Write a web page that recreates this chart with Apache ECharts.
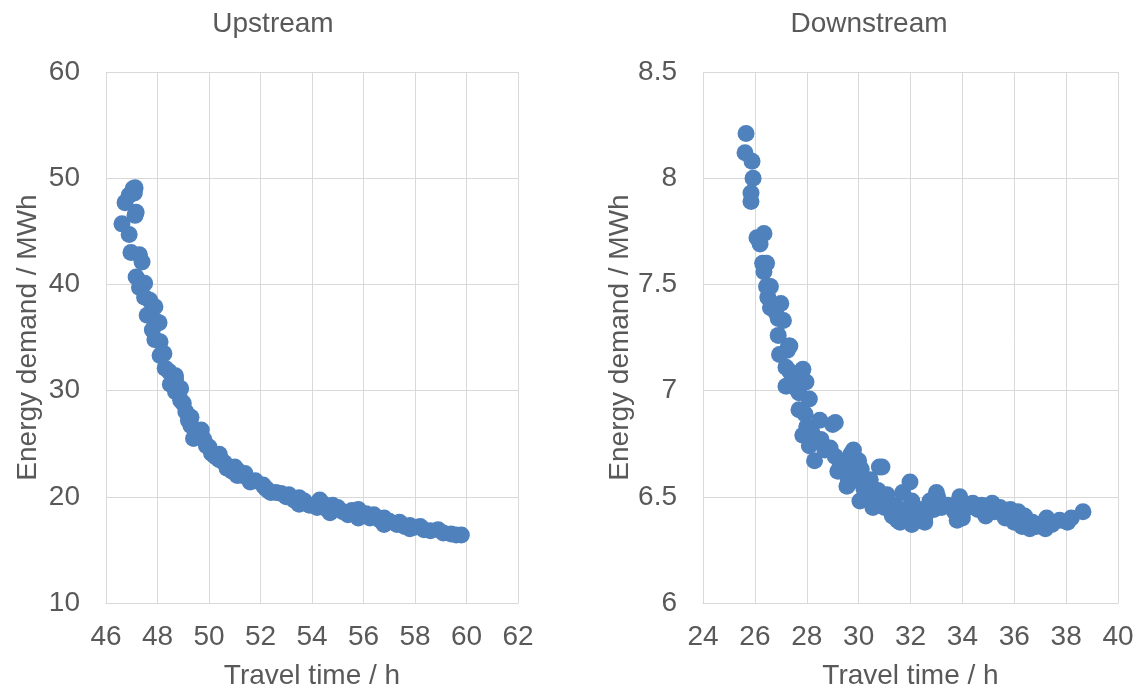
<!DOCTYPE html>
<html>
<head>
<meta charset="utf-8">
<script src="https://cdn.jsdelivr.net/npm/echarts@6/dist/echarts.min.js"></script>
<style>html,body{margin:0;padding:0;background:#fff}#c{width:1145px;height:695px}</style>
</head>
<body>
<div id="c"></div>
<script>
const upX = [46.62,46.74,46.9,47.05,47.13,47.1,46.9,47.13,47.17,46.97,47.3,47.4,47.17,47.3,47.5,47.5,47.7,47.6,47.9,47.9,47.8,48.06,47.9,48.1,48.1,48.25,48.3,48.45,48.5,48.7,48.7,48.7,48.9,48.9,49.0,49.1,49.2,49.3,49.3,49.4,49.6,49.7,49.8,49.9,50.0,50.1,50.3,50.4,50.4,50.6,50.7,50.9,51.1,51.1,51.3,51.4,51.6,51.8,52.1,52.2,52.4,52.6,52.8,53.0,53.1,53.3,53.5,53.7,53.9,54.2,54.3,54.4,54.6,54.8,55.0,55.2,55.4,55.55,55.8,55.9,56.1,56.25,56.4,56.65,56.8,57.0,57.3,57.4,57.6,57.8,57.95,58.2,58.35,58.6,58.9,59.1,59.4,59.6,59.8,53.5,54.7,55.8,56.8,57.8,52.3,51.0,50.2];
const upY = [45.7,47.7,48.4,49.0,49.1,48.6,44.7,46.5,46.8,43.0,42.8,42.1,40.7,39.7,40.1,38.8,38.5,37.1,36.6,37.9,35.7,36.4,34.8,34.6,33.3,33.5,32.1,31.8,30.6,31.4,29.9,31.0,30.2,29.1,28.8,28.0,27.2,26.7,27.5,25.5,26.1,26.3,25.4,24.8,24.7,24.1,23.7,23.5,24.0,23.2,22.7,22.4,22.5,22.0,22.0,22.2,21.4,21.5,21.1,20.8,20.4,20.4,20.3,20.0,20.2,19.7,19.9,19.6,19.2,19.0,19.7,19.4,18.8,19.2,19.0,18.6,18.3,18.7,18.8,18.2,18.4,18.0,18.3,17.8,18.0,17.7,17.4,17.6,17.2,17.3,17.1,17.2,16.9,16.8,16.9,16.6,16.5,16.4,16.4,19.3,18.5,18.0,17.4,17.0,20.6,22.8,23.9];

const dnX = [25.66,25.62,25.89,25.93,25.85,25.85,26.08,26.35,26.2,26.3,26.45,26.35,26.45,26.6,26.5,26.6,26.8,26.9,27.0,27.1,26.9,26.95,27.25,27.3,27.2,27.35,27.5,27.2,27.6,27.7,27.85,27.97,27.7,27.93,28.1,28.0,28.2,28.5,28.55,28.3,28.7,28.9,29.0,29.1,29.3,29.5,29.7,29.75,29.9,30.0,30.1,30.3,30.45,30.5,30.6,30.8,30.75,31.0,31.1,31.3,31.4,31.5,31.7,31.8,31.9,32.05,32.2,32.35,32.55,32.75,32.9,33.05,33.2,33.45,33.7,33.9,34.0,34.2,34.4,34.6,34.75,34.9,35.15,35.25,35.45,35.65,35.85,36.0,36.15,36.3,36.4,36.6,36.7,36.85,37.0,37.2,37.25,37.45,37.75,38.05,38.2,38.65,27.85,28.1,29.55,30.05,30.55,31.6,32.05,32.55,33.8,31.98,29.8,29.1,27.35,30.9,33.0,29.2,29.6,30.2];
const dnY = [8.21,8.12,8.08,8.00,7.93,7.89,7.72,7.74,7.69,7.60,7.60,7.56,7.49,7.49,7.44,7.39,7.37,7.34,7.41,7.33,7.26,7.17,7.19,7.21,7.11,7.09,7.05,7.02,7.01,6.99,7.10,7.04,6.91,6.89,6.96,6.83,6.80,6.86,6.77,6.67,6.72,6.73,6.84,6.69,6.65,6.63,6.70,6.60,6.58,6.67,6.63,6.55,6.58,6.51,6.48,6.64,6.53,6.45,6.51,6.41,6.46,6.39,6.52,6.44,6.39,6.48,6.42,6.44,6.40,6.48,6.44,6.50,6.45,6.46,6.43,6.50,6.40,6.45,6.47,6.44,6.46,6.41,6.47,6.43,6.45,6.40,6.44,6.38,6.43,6.36,6.41,6.35,6.38,6.36,6.37,6.35,6.40,6.37,6.39,6.38,6.40,6.43,6.79,6.74,6.55,6.48,6.45,6.38,6.37,6.38,6.39,6.57,6.72,6.85,7.21,6.64,6.52,6.62,6.58,6.54];

const upXTicks = [46, 62, 2];
const dnXTicks = [24, 40, 2];

const chart = echarts.init(document.getElementById('c'));
const txt = '#595959';
const font = 'Liberation Sans, Arial, sans-serif';
const FS = 28;
const gridLine = {show: true, lineStyle: {color: '#d9d9d9', width: 1}};
function xAx(idx, t) {
  return {gridIndex: idx, type: 'value', min: t[0], max: t[1], interval: t[2],
    name: 'Travel time / h', nameLocation: 'middle', nameGap: 59,
    nameTextStyle: {color: txt, fontSize: FS, fontFamily: font},
    axisLine: {show: true, lineStyle: {color: '#d9d9d9'}}, axisTick: {show: false},
    axisLabel: {color: txt, fontSize: FS, fontFamily: font, margin: 20},
    splitLine: gridLine};
}
function yAx(idx, min, max, interval, gap) {
  return {gridIndex: idx, type: 'value', min: min, max: max, interval: interval,
    name: 'Energy demand / MWh', nameLocation: 'middle', nameGap: gap,
    nameTextStyle: {color: txt, fontSize: FS, fontFamily: font},
    axisLine: {show: false}, axisTick: {show: false},
    axisLabel: {color: txt, fontSize: FS, fontFamily: font, margin: 26},
    splitLine: gridLine};
}
chart.setOption({
  backgroundColor: '#fff',
  animation: false,
  title: [
    {text: 'Upstream', left: 268, top: 5, textAlign: 'center', textStyle: {color: txt, fontSize: FS, fontWeight: 'normal', fontFamily: font}},
    {text: 'Downstream', left: 864, top: 5, textAlign: 'center', textStyle: {color: txt, fontSize: FS, fontWeight: 'normal', fontFamily: font}}
  ],
  grid: [
    {left: 106, width: 412, top: 72, height: 531},
    {left: 703, width: 415, top: 72, height: 531}
  ],
  xAxis: [xAx(0, upXTicks), xAx(1, dnXTicks)],
  yAxis: [yAx(0, 10, 60, 10, 64), yAx(1, 6, 8.5, 0.5, 67)],
  series: [
    {type: 'scatter', xAxisIndex: 0, yAxisIndex: 0, symbolSize: 17, itemStyle: {color: '#4F81BD', opacity: 1},
      data: upX.map((x, i) => [x, upY[i]])},
    {type: 'scatter', xAxisIndex: 1, yAxisIndex: 1, symbolSize: 17, itemStyle: {color: '#4F81BD', opacity: 1},
      data: dnX.map((x, i) => [x, dnY[i]])}
  ]
});
</script>
</body>
</html>
